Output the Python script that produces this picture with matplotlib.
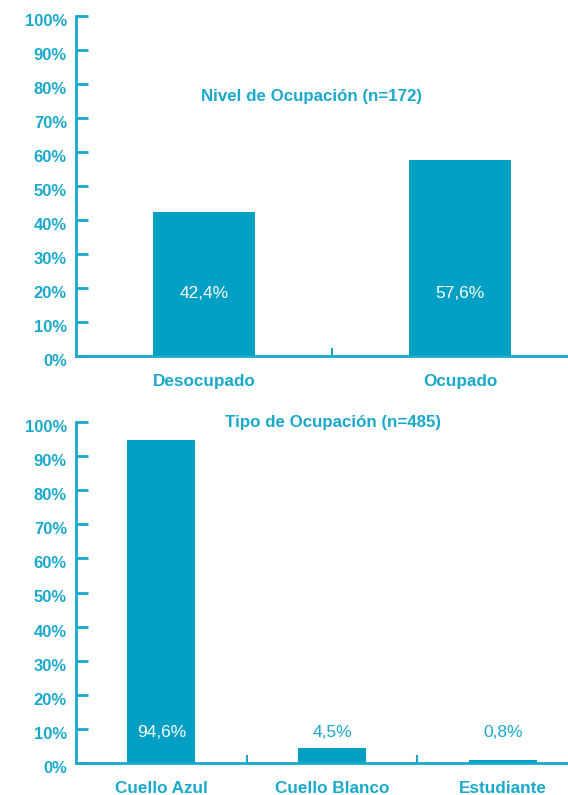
import matplotlib.pyplot as plt
import matplotlib.transforms as mtransforms

plt.rcParams['font.family'] = ['Liberation Sans', 'DejaVu Sans']

BAR = '#00a0c4'
TXT = '#1aa9cd'

nivel_cats = ["Desocupado", "Ocupado"]
nivel_vals = [42.4, 57.6]
nivel_labels = ["42,4%", "57,6%"]

tipo_cats = ["Cuello Azul", "Cuello Blanco", "Estudiante"]
tipo_vals = [94.6, 4.5, 0.8]
tipo_labels = ["94,6%", "4,5%", "0,8%"]

yticks = list(range(0, 101, 10))

W, H = 568, 795
fig = plt.figure(figsize=(W / 100, H / 100), dpi=100)


def panel(left, bottom, top, cats, vals, labels, title, title_x, title_y, label_y, white_min):
    ax = fig.add_axes([left / W, 1 - bottom / H, 512 / W, (bottom - top) / H])
    x = list(range(len(cats)))
    ax.bar(x, vals, width=0.4, color=BAR, zorder=2)
    ax.set_xlim(-0.5, len(cats) - 0.5)
    ax.set_ylim(0, 100)
    for s in ['top', 'right']:
        ax.spines[s].set_visible(False)
    for s in ['left', 'bottom']:
        ax.spines[s].set_color(TXT)
        ax.spines[s].set_linewidth(2)
    ax.set_yticks(yticks)
    ax.set_yticklabels([f"{t}%" for t in yticks])
    ax.tick_params(axis='y', direction='in', length=8.5, width=2, color=TXT,
                   labelcolor=TXT, labelsize=12, pad=6.5)
    ax.set_xticks(x)
    ax.set_xticklabels(cats)
    ax.tick_params(axis='x', length=0, labelcolor=TXT, labelsize=12.3, pad=13)
    ax.set_xticks([i + 0.5 for i in x[:-1]], minor=True)
    ax.tick_params(axis='x', which='minor', direction='in', length=6, width=1.5, color=TXT)
    off = mtransforms.ScaledTranslation(0, -4 / 100, fig.dpi_scale_trans)
    for lab in ax.get_yticklabels():
        lab.set_fontweight('bold')
        lab.set_transform(lab.get_transform() + off)
    for lab in ax.get_xticklabels():
        lab.set_fontweight('bold')
    for xi, v, lab in zip(x, vals, labels):
        c = 'white' if v > white_min else TXT
        ax.text(xi, label_y, lab, ha='center', va='center', color=c, fontsize=12.5)
    ax.text(title_x, title_y, title, transform=ax.transAxes, ha='center', va='center',
            color=TXT, fontsize=12.2, fontweight='bold')
    return ax


panel(76, 356, 16, nivel_cats, nivel_vals, nivel_labels,
      "Nivel de Ocupación (n=172)", 0.46, 0.762, 18.5, 15)
panel(76, 763, 422, tipo_cats, tipo_vals, tipo_labels,
      "Tipo de Ocupación (n=485)", 0.502, 1.0, 8.8, 15)

fig.savefig("out.png", dpi=100)
